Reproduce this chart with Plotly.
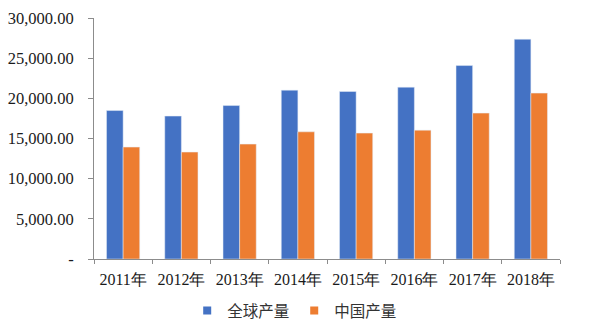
import plotly.graph_objects as go

years = ["2011年", "2012年", "2013年", "2014年", "2015年", "2016年", "2017年", "2018年"]
global_output = [18480, 17790, 19100, 21020, 20850, 21390, 24080, 27360]
china_output = [13930, 13310, 14300, 15830, 15670, 16040, 18160, 20650]

y_ticks = [0, 5000, 10000, 15000, 20000, 25000, 30000]
y_tick_text = ["-", "5,000.00", "10,000.00", "15,000.00", "20,000.00", "25,000.00", "30,000.00"]

BLUE = "#4472C4"
ORANGE = "#ED7D31"
AXIS = "#8c8c8c"
SERIF = "serif"

fig = go.Figure()
fig.add_trace(go.Bar(x=years, y=global_output, name="全球产量", marker_color=BLUE, showlegend=False))
fig.add_trace(go.Bar(x=years, y=china_output, name="中国产量", marker_color=ORANGE, showlegend=False))

# small square legend keys
for name, color in [("全球产量", BLUE), ("中国产量", ORANGE)]:
    fig.add_trace(go.Scatter(x=[None], y=[None], mode="markers", name=name,
                             marker=dict(symbol="square", size=8, color=color)))

fig.update_layout(
    width=600, height=335,
    margin=dict(l=94, r=40, t=18, b=76, autoexpand=False),
    plot_bgcolor="white", paper_bgcolor="white",
    barmode="group", bargap=0.43, bargroupgap=0,
    font=dict(family=SERIF, size=15, color="#1a1a1a"),
    showlegend=True,
    legend=dict(orientation="h", x=0.2, xanchor="left", yref="container", y=0.072, yanchor="middle",
                font=dict(family="Noto Sans CJK SC", size=15.5, color="#333"),
                itemwidth=30, tracegroupgap=0),
)
fig.update_xaxes(showline=True, linecolor=AXIS, linewidth=1, ticks="outside", tickson="boundaries",
                 ticklen=4, tickcolor=AXIS, showgrid=False, ticklabelstandoff=6, tickangle=0,
                 tickfont=dict(family=SERIF, size=16))
fig.update_yaxes(range=[0, 30000], tickvals=y_ticks, ticktext=y_tick_text, showline=True,
                 linecolor=AXIS, linewidth=1, ticks="outside", ticklen=5, tickcolor=AXIS,
                 showgrid=False, zeroline=False, ticklabelstandoff=11,
                 tickfont=dict(family=SERIF, size=16.5))

fig.write_html("out.html")
